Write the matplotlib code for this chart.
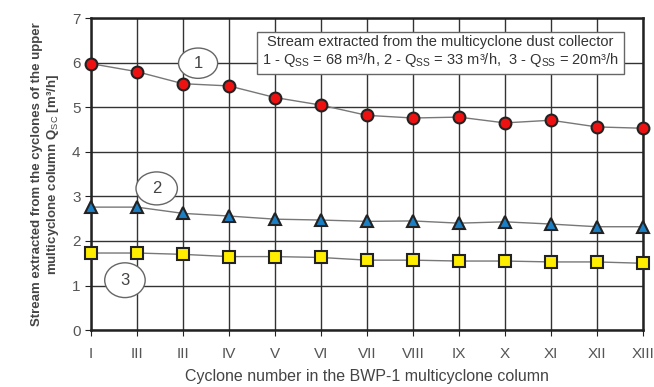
import matplotlib
matplotlib.use("Agg")
import matplotlib.pyplot as plt
from matplotlib.patches import Ellipse

plt.rcParams['font.family'] = ['Liberation Sans', 'DejaVu Sans']
plt.rcParams['mathtext.fontset'] = 'custom'
plt.rcParams['mathtext.rm'] = 'Liberation Sans'

categories = ["I", "III", "III", "IV", "V", "VI", "VII", "VIII", "IX", "X", "XI", "XII", "XIII"]
series1 = [5.98, 5.80, 5.53, 5.48, 5.22, 5.05, 4.82, 4.76, 4.78, 4.65, 4.71, 4.56, 4.53]
series2 = [2.76, 2.76, 2.62, 2.56, 2.49, 2.47, 2.44, 2.45, 2.40, 2.43, 2.38, 2.32, 2.32]
series3 = [1.73, 1.73, 1.70, 1.65, 1.65, 1.63, 1.57, 1.57, 1.55, 1.55, 1.53, 1.53, 1.50]
yticks = [0, 1, 2, 3, 4, 5, 6, 7]

fig = plt.figure(figsize=(6.54, 3.87), dpi=100)
ax = fig.add_axes([0.139, 0.147, 0.844, 0.806])
x = list(range(len(categories)))

ax.set_xlim(0, len(categories) - 1)
ax.set_ylim(0, 7)
ax.set_xticks(x)
ax.set_xticklabels(categories)
ax.set_yticks(yticks)
ax.grid(True, color='#333333', linewidth=1.0)
ax.set_axisbelow(True)
for s in ax.spines.values():
    s.set_linewidth(1.8)
    s.set_color('#222222')
ax.tick_params(axis='both', colors='#222222', labelcolor='#555555', labelsize=11, length=4)
ax.tick_params(axis='x', pad=8)

ax.plot(x, series1, color='#777777', lw=1, marker='o', markersize=8.5,
        markerfacecolor='#ee1111', markeredgecolor='#222222', markeredgewidth=1.5, zorder=5, clip_on=False)
ax.plot(x, series2, color='#777777', lw=1, marker='^', markersize=9,
        markerfacecolor='#1a7fc4', markeredgecolor='#222222', markeredgewidth=1.5, zorder=5, clip_on=False)
ax.plot(x, series3, color='#777777', lw=1, marker='s', markersize=8.5,
        markerfacecolor='#ffee00', markeredgecolor='#222222', markeredgewidth=1.5, zorder=5, clip_on=False)

for (cx, cy, w, h, lab) in [(2.33, 5.99, 0.85, 0.68, '1'), (1.43, 3.18, 0.9, 0.74, '2'), (0.74, 1.12, 0.88, 0.78, '3')]:
    ax.add_patch(Ellipse((cx, cy), w, h, facecolor='white', edgecolor='#666666', lw=1.0, zorder=4))
    ax.text(cx, cy, lab, ha='center', va='center', fontsize=12, color='#444444', zorder=6)

ax.text(7.6, 6.24,
        "Stream extracted from the multicyclone dust collector\n"
        "1 - Q$_{\\mathrm{SS}}$ = 68 m³/h, 2 - Q$_{\\mathrm{SS}}$ = 33 m³/h,  3 - Q$_{\\mathrm{SS}}$ = 20m³/h",
        ha='center', va='center', fontsize=10.5, color='#333333', linespacing=1.1, zorder=6,
        bbox=dict(boxstyle='square,pad=0.35', facecolor='white', edgecolor='#666666', lw=1.0))

ax.set_xlabel("Cyclone number in the BWP-1 multicyclone column", fontsize=11.5, color='#444444', labelpad=6)
ax.set_ylabel("Stream extracted from the cyclones of the upper\nmulticyclone column Q$_{\\mathrm{SC}}$ [m³/h]",
              fontsize=9.5, color='#444444', fontweight='bold', labelpad=8, linespacing=1.2)

fig.savefig("out.png", dpi=100)
